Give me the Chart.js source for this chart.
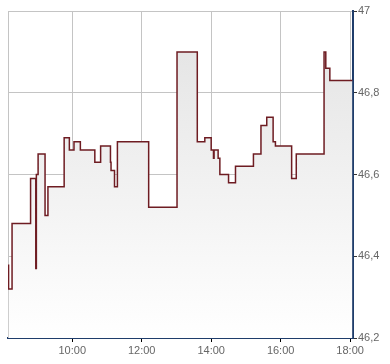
<!DOCTYPE html>
<html lang="de">
<head>
  <meta charset="UTF-8">
  <title>Kursverlauf</title>
  <script src="https://cdn.jsdelivr.net/npm/chart.js"></script>
  <style>
    body { margin: 0; background: #fff; }
    .chart-container { width: 390px; height: 364px; }
  </style>
</head>
<body>
  <div class="chart-container">
    <canvas id="priceChart"></canvas>
  </div>

  <script>
    // Trade times and prices (each point = time the new price starts)
    const times = ['08:10', '08:10', '08:16', '08:48', '08:57', '08:58', '09:01', '09:13', '09:18', '09:46',
      '09:55', '10:03', '10:14', '10:39', '10:49', '11:06', '11:07', '11:13', '11:18', '12:12',
      '13:01', '13:36', '13:49', '14:00', '14:04', '14:05', '14:12', '14:15', '14:30', '14:42',
      '15:13', '15:26', '15:36', '15:47', '15:51', '16:19', '16:27', '17:15', '17:18', '17:25', '18:04'];
    const prices = [46.38, 46.32, 46.48, 46.59, 46.37, 46.60, 46.65, 46.50, 46.57, 46.69,
      46.66, 46.68, 46.66, 46.63, 46.67, 46.63, 46.61, 46.57, 46.68, 46.52,
      46.90, 46.68, 46.69, 46.66, 46.64, 46.66, 46.64, 46.60, 46.58, 46.62,
      46.65, 46.72, 46.74, 46.68, 46.67, 46.59, 46.65, 46.90, 46.86, 46.83, 46.83];

    const xTickLabels = ['10:00', '12:00', '14:00', '16:00', '18:00'];
    const yTicks = [46.2, 46.4, 46.6, 46.8, 47];
    const yTickLabels = ['46,2', '46,4', '46,6', '46,8', '47'];
    const xStart = '08:09';
    const xEnd = '18:05';

    const toMin = s => {
      const [h, m] = s.split(':').map(Number);
      return h * 60 + m;
    };

    const gridColor = '#c4c4c4';
    const axisBlue = '#1f3d6b';
    const labelColor = '#666666';

    // left border of the plot area
    const leftBorder = {
      id: 'leftBorder',
      beforeDatasetsDraw(chart) {
        const { ctx, chartArea: a } = chart;
        ctx.save();
        ctx.strokeStyle = gridColor;
        ctx.lineWidth = 1;
        ctx.beginPath();
        ctx.moveTo(a.left + 0.5, a.top);
        ctx.lineTo(a.left + 0.5, a.bottom);
        ctx.stroke();
        ctx.restore();
      }
    };

    const ctx = document.getElementById('priceChart').getContext('2d');
    new Chart(ctx, {
      type: 'line',
      data: {
        datasets: [{
          data: times.map((t, i) => ({ x: toMin(t), y: prices[i] })),
          borderColor: '#6e1c22',
          borderWidth: 1.5,
          stepped: true,
          pointRadius: 0,
          fill: 'start',
          backgroundColor: c => {
            const a = c.chart.chartArea;
            if (!a) return 'rgba(0,0,0,0)';
            const g = c.chart.ctx.createLinearGradient(0, a.top, 0, a.bottom);
            g.addColorStop(0, '#e2e2e2');
            g.addColorStop(1, '#ffffff');
            return g;
          }
        }]
      },
      options: {
        responsive: true,
        maintainAspectRatio: false,
        animation: false,
        layout: { padding: { left: 8, top: 11, right: 0, bottom: 0 } },
        plugins: { legend: { display: false }, tooltip: { enabled: false } },
        scales: {
          x: {
            type: 'linear',
            min: toMin(xStart),
            max: toMin(xEnd),
            afterBuildTicks: s => { s.ticks = xTickLabels.map(l => ({ value: toMin(l) })); },
            afterFit: s => { s.height = 26; },
            ticks: {
              autoSkip: false,
              maxRotation: 0,
              padding: 2,
              color: labelColor,
              font: { family: 'Liberation Sans, Arial, sans-serif', size: 11 },
              callback: (v, i) => xTickLabels[i]
            },
            grid: { color: gridColor, tickColor: '#000', tickLength: 4, lineWidth: 1 },
            border: { color: axisBlue, width: 2 }
          },
          y: {
            position: 'right',
            min: 46.2,
            max: 47,
            afterBuildTicks: s => { s.ticks = yTicks.map(v => ({ value: v })); },
            afterFit: s => { s.width = 37; },
            ticks: {
              padding: 1,
              color: labelColor,
              font: { family: 'Liberation Sans, Arial, sans-serif', size: 11 },
              callback: (v, i) => yTickLabels[i]
            },
            grid: { color: gridColor, tickColor: '#333', tickLength: 4, lineWidth: 1 },
            border: { color: axisBlue, width: 2 }
          }
        }
      },
      plugins: [leftBorder]
    });
  </script>
</body>
</html>
